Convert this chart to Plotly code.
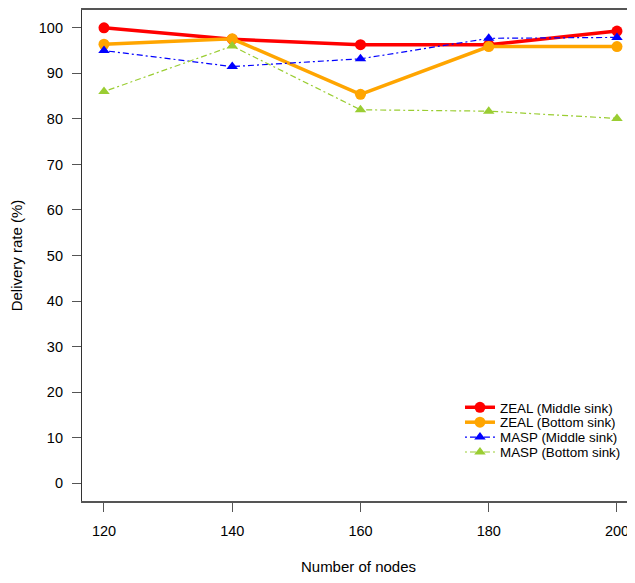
import plotly.graph_objects as go

nodes = [120, 140, 160, 180, 200]
zeal_middle = [100.0, 97.5, 96.3, 96.3, 99.3]
zeal_bottom = [96.4, 97.6, 85.4, 95.9, 95.9]
masp_middle = [95.0, 91.5, 93.2, 97.7, 97.9]
masp_bottom = [86.0, 96.0, 82.0, 81.7, 80.1]
y_ticks = [0, 10, 20, 30, 40, 50, 60, 70, 80, 90, 100]

series_names = ["ZEAL (Middle sink)", "ZEAL (Bottom sink)", "MASP (Middle sink)", "MASP (Bottom sink)"]
series_values = [zeal_middle, zeal_bottom, masp_middle, masp_bottom]
series_colors = ["#FF0000", "#FFA500", "#0000FF", "#9ACD32"]
legend_ids = ["legend", "legend2", "legend3", "legend4"]

fig = go.Figure()
for i, (name, vals, col, lg) in enumerate(zip(series_names, series_values, series_colors, legend_ids)):
    if i < 2:
        line = dict(color=col, width=3.5)
        marker = dict(symbol="circle", size=11, color=col)
    else:
        line = dict(color=col, width=1.2, dash="2px,3px,6px,3px")
        marker = dict(symbol="triangle-up", size=10, color=col)
    fig.add_trace(go.Scatter(x=nodes, y=vals, name=name, mode="lines+markers",
                             line=line, marker=marker, legend=lg))

font_family = "Liberation Sans, Arial, sans-serif"
tick_font = dict(family=font_family, size=14.5, color="#000000")
title_font = dict(family=font_family, size=15, color="#000000")
legend_font = dict(family=font_family, size=13.4, color="#000000")

leg_y = [0.1903, 0.1599, 0.1296, 0.0992]
legends = {}
for lg, yy in zip(legend_ids, leg_y):
    legends[lg] = dict(x=0.6835, y=yy, xanchor="left", yanchor="middle", bgcolor="rgba(0,0,0,0)",
                       font=legend_font, itemwidth=30, borderwidth=0)

fig.update_layout(
    width=627, height=567,
    margin=dict(l=74, r=0, t=0, b=73),
    plot_bgcolor="white", paper_bgcolor="white",
    font=tick_font,
    showlegend=True,
    xaxis=dict(range=[116.57, 202.81], tickvals=nodes, ticks="outside", ticklen=9, tickcolor="#555555",
               showline=True, linecolor="#555555", linewidth=1.5, mirror=True, showgrid=False, zeroline=False,
               ticklabelstandoff=7,
               title=dict(text="Number of nodes", standoff=25, font=title_font), tickfont=tick_font),
    yaxis=dict(range=[-3.92, 103.92], tickvals=y_ticks, ticks="outside", ticklen=9, tickcolor="#555555",
               showline=True, linecolor="#333333", linewidth=1.2, mirror=False, showgrid=False, zeroline=False,
               ticklabelstandoff=6,
               title=dict(text="Delivery rate (%)", standoff=16, font=title_font), tickfont=tick_font),
    **legends,
)
fig.write_html("out.html")
